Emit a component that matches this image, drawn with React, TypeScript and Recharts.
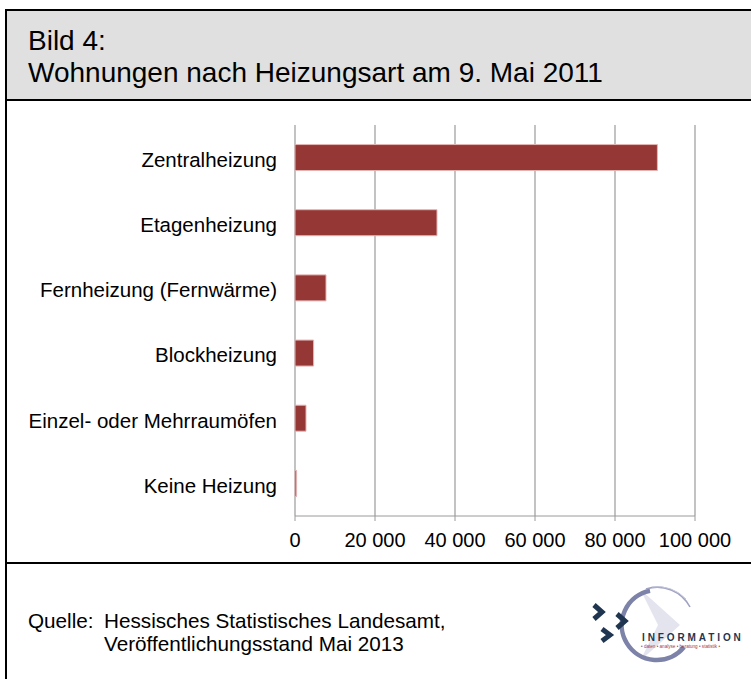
import React from 'react';
import { BarChart, Bar, XAxis, YAxis, CartesianGrid } from 'recharts';

const categories = [
  'Zentralheizung',
  'Etagenheizung',
  'Fernheizung (Fernwärme)',
  'Blockheizung',
  'Einzel- oder Mehrraumöfen',
  'Keine Heizung',
];
const values = [90600, 35500, 7750, 4650, 2750, 400];
const xTicks = [0, 20000, 40000, 60000, 80000, 100000];
const boundaryTicks = [0, 1, 2, 3, 4, 5, 6];

const data = categories.map((name, i) => ({ name, value: values[i] }));

const FONT = '"Liberation Sans", Arial, Helvetica, sans-serif';
const fmt = (v: number) => String(v).replace(/\B(?=(\d{3})+(?!\d))/g, ' ');

function Logo() {
  return (
    <svg width={171} height={85} style={{ position: 'absolute', left: 580, top: 585 }}>
      <defs>
        <clipPath id="logoClip">
          <circle cx={77} cy={40} r={34} />
        </clipPath>
      </defs>
      <path d="M60 4 L100 40 L60 76 L78 40 Z" fill="#e4e4ef" clipPath="url(#logoClip)" />
      <path d="M70 5.7 A35 35 0 1 0 104 62" fill="none" stroke="#7c82a8" strokeWidth={4.5} />
      <path d="M66 4 A37 37 0 0 1 110 22" fill="none" stroke="#9ea2c2" strokeWidth={1.6} />
      <path d="M72 2 A39 39 0 0 1 106 14" fill="none" stroke="#c4c6da" strokeWidth={1} />
      <polyline points="14,20 22,27 14,34" fill="none" stroke="#1f3550" strokeWidth={5} />
      <polyline points="37,29 45,36 37,43" fill="none" stroke="#1f3550" strokeWidth={5} />
      <polyline points="22,44 30,50 22,56" fill="none" stroke="#1f3550" strokeWidth={5} />
      <text x={62} y={56} fontSize={10} fontFamily={FONT} fill="#1f3550" letterSpacing={2.9} fontWeight="bold">
        INFORMATION
      </text>
      <text x={61} y={63} fontSize={4.6} fontFamily={FONT} fill="#a63a4a">
        • daten • analyse • beratung • statistik •
      </text>
    </svg>
  );
}

export default function App() {
  return (
    <div
      style={{
        position: 'absolute',
        left: 0,
        top: 0,
        width: 751,
        height: 679,
        overflow: 'hidden',
        background: '#fff',
        fontFamily: FONT,
      }}
    >
      {/* frame */}
      <div
        style={{
          position: 'absolute',
          left: 5,
          top: 9,
          width: 800,
          height: 700,
          borderLeft: '2px solid #000',
          borderTop: '2px solid #000',
          boxSizing: 'border-box',
        }}
      />
      {/* header */}
      <div
        style={{
          position: 'absolute',
          left: 7,
          top: 11,
          width: 760,
          height: 88,
          background: '#e0e0e0',
          borderBottom: '2px solid #000',
        }}
      />
      <div
        style={{
          position: 'absolute',
          left: 28,
          top: 25,
          fontSize: 28,
          lineHeight: '32px',
          color: '#000',
          whiteSpace: 'nowrap',
        }}
      >
        <div>Bild 4:</div>
        <div>Wohnungen nach Heizungsart am 9. Mai 2011</div>
      </div>
      {/* separator footer */}
      <div
        style={{
          position: 'absolute',
          left: 7,
          top: 562,
          width: 760,
          height: 2,
          background: '#000',
        }}
      />
      <div style={{ position: 'absolute', left: 0, top: 100 }}>
        <BarChart
          width={751}
          height={460}
          data={data}
          layout="vertical"
          margin={{ top: 25, right: 56, bottom: 4, left: 0 }}
          barCategoryGap="30%"
        >
          <CartesianGrid
            horizontal={false}
            vertical={true}
            stroke="#9a9a9a"
            strokeWidth={1.2}
            yAxisId="num"
            verticalValues={xTicks}
          />
          <XAxis
            type="number"
            domain={[0, 100000]}
            ticks={xTicks}
            tickFormatter={fmt}
            interval={0}
            height={40}
            tickSize={5}
            tickMargin={12}
            stroke="#9a9a9a"
            tick={{ fill: '#000', fontSize: 20, fontFamily: FONT }}
          />
          <YAxis
            yAxisId="num"
            type="number"
            domain={[0, 6]}
            ticks={boundaryTicks}
            width={0}
            tick={false}
            tickSize={5}
            stroke="#9a9a9a"
          />
          <YAxis
            yAxisId="cat"
            type="category"
            dataKey="name"
            width={295}
            tickLine={false}
            axisLine={false}
            tickSize={0}
            tickMargin={18}
            interval={0}
            tick={{ fill: '#000', fontSize: 20.5, fontFamily: FONT, dy: 2 }}
          />
          <Bar
            dataKey="value"
            yAxisId="cat"
            fill="#953735"
            stroke="#e4b5b4"
            strokeWidth={1}
            isAnimationActive={false}
          />
        </BarChart>
      </div>
      <div style={{ position: 'absolute', left: 28, top: 609, fontSize: 20.7, lineHeight: '23px', whiteSpace: 'nowrap' }}>
        Quelle:
      </div>
      <div style={{ position: 'absolute', left: 104, top: 609, fontSize: 20.7, lineHeight: '23px', whiteSpace: 'nowrap' }}>
        <div>Hessisches Statistisches Landesamt,</div>
        <div>Veröffentlichungsstand Mai 2013</div>
      </div>
      <Logo />
    </div>
  );
}
